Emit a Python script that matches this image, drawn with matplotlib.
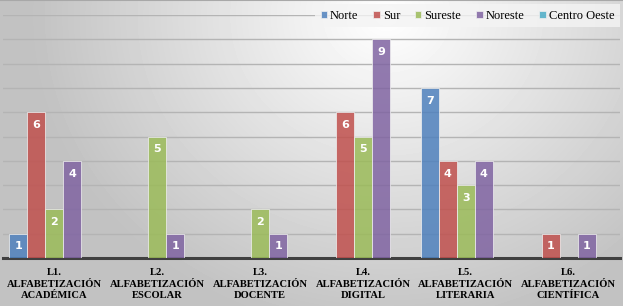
import numpy as np
import matplotlib.pyplot as plt

# ─── DATA ────────────────────────────────────────────────────────────────────
categories = ["L1.\nALFABETIZACIÓN\nACADÉMICA",
              "L2.\nALFABETIZACIÓN\nESCOLAR",
              "L3.\nALFABETIZACIÓN\nDOCENTE",
              "L4.\nALFABETIZACIÓN\nDIGITAL",
              "L5.\nALFABETIZACIÓN\nLITERARIA",
              "L6.\nALFABETIZACIÓN\nCIENTÍFICA"]
series_names = ["Norte", "Sur", "Sureste", "Noreste", "Centro Oeste"]
norte        = [1, 0, 0, 0, 7, 0]
sur          = [6, 0, 0, 6, 4, 1]
sureste      = [2, 5, 2, 5, 3, 0]
noreste      = [4, 1, 1, 9, 4, 1]
centro_oeste = [0, 0, 0, 0, 0, 0]
values = [norte, sur, sureste, noreste, centro_oeste]
colors = ["#4F81BD", "#C0504D", "#9BBB59", "#8064A2", "#4BACC6"]

plt.rcParams["font.serif"] = ["Liberation Serif", "DejaVu Serif"]

# ─── FIGURE ──────────────────────────────────────────────────────────────────
W, H = 623, 306
fig = plt.figure(figsize=(W/100, H/100), dpi=100)

# radial grey background
bg = fig.add_axes([0, 0, 1, 1], zorder=0)
yy, xx = np.mgrid[0:H, 0:W]
d = np.sqrt(((xx - 0.62*W)/W)**2 + ((yy - 0.05*H)/H*0.55)**2)
shade = np.clip(1.0 - 0.42*d, 0.76, 1.0)
bg.imshow(shade, cmap="gray", vmin=0, vmax=1, aspect="auto",
          extent=[0, 1, 0, 1], origin="upper")
bg.axhline(1, color="#a8a8a8", lw=1.5)
bg.set_axis_off()

ax = fig.add_axes([3/W, 48/H, 617/W, (258-15)/H], zorder=1)
ax.patch.set_alpha(0)

x = np.arange(len(categories))
bw = 0.175
for i, (name, vals, c) in enumerate(zip(series_names, values, colors)):
    pos = x + (i - 2) * bw
    bars = ax.bar(pos, vals, bw, color=c, alpha=0.85, label=name,
                  edgecolor="#f0f0f0", linewidth=0.6, zorder=3)
    for b, v in zip(bars, vals):
        if v > 0:
            ax.text(b.get_x() + b.get_width()/2, v - 0.32, str(v),
                    ha="center", va="top", color="white",
                    fontsize=8, fontweight="bold", zorder=4)

ax.set_xlim(-0.5, len(categories) - 0.5)
ax.set_ylim(0, 10)
ax.set_yticks(range(1, 11))
ax.yaxis.grid(True, color="#b4b4b4", lw=1.0, zorder=0)
ax.tick_params(axis="y", left=False, labelleft=False)
ax.tick_params(axis="x", bottom=False, pad=4)
ax.set_xticks(x)
ax.set_xticklabels(categories, family="serif",
                   fontweight="bold", fontsize=7.6, linespacing=1.33)
for s in ["top", "right", "left"]:
    ax.spines[s].set_visible(False)
ax.spines["bottom"].set_color("#404040")
ax.spines["bottom"].set_linewidth(2.2)

leg = ax.legend(loc="upper right", bbox_to_anchor=(1.01, 1.07), ncol=5,
                frameon=True, fancybox=False, borderpad=0.45,
                handlelength=0.5, handleheight=0.5, handletextpad=0.25,
                columnspacing=1.2, prop={"family": "serif", "size": 9})
leg.get_frame().set_facecolor("#f4f4f4")
leg.get_frame().set_edgecolor("none")
leg.get_frame().set_alpha(0.8)

fig.savefig("out.png", dpi=100)
